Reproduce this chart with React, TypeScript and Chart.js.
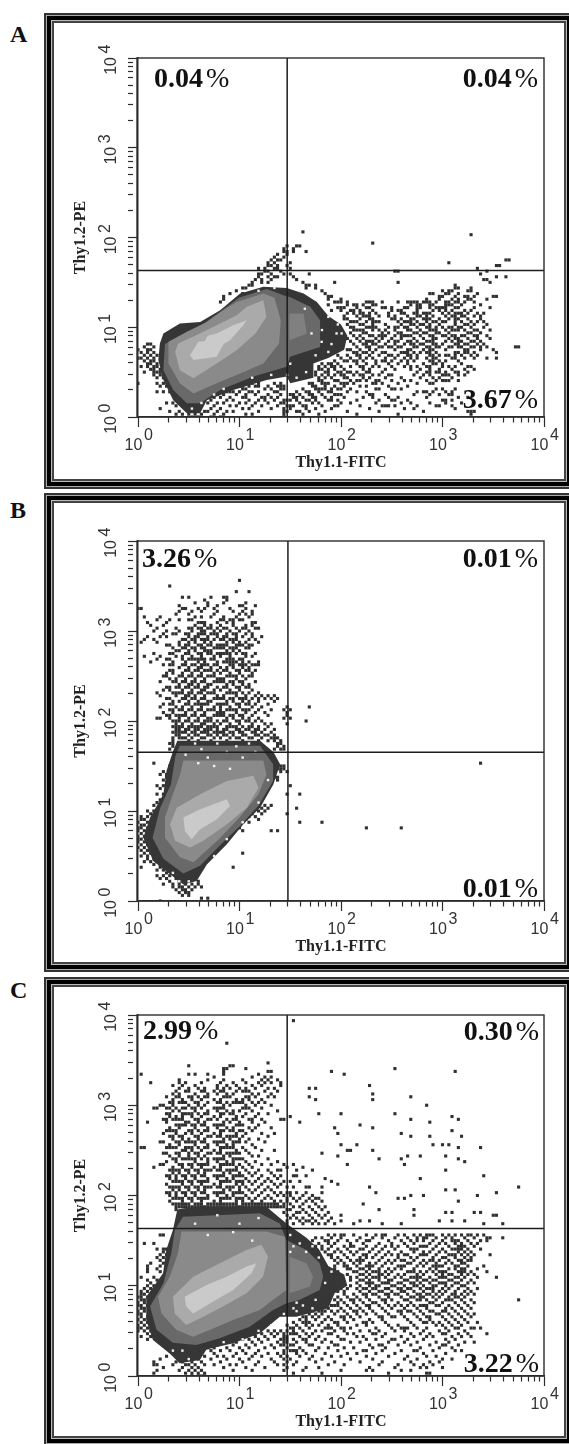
import React, { useEffect, useRef } from "react";
import { Chart, registerables } from "chart.js";
Chart.register(...registerables);

// ---- data: cytometer channels (128 channels across four decades) ----
const channelsPerDecade = 32;
const decadeTicks = [1, 10, 100, 1000, 10000];
const minorMultipliers = [2, 3, 4, 5, 6, 7, 8, 9];
const xTitle = "Thy1.1-FITC";
const yTitle = "Thy1.2-PE";
const panelLetters = ["A", "B", "C"];

const gateX = [29.5, 30, 29.5];
const gateY = [43, 45, 43];

const percentsA = ["0.04", "0.04", "3.67"];
const percentsB = ["3.26", "0.01", "0.01"];
const percentsC = ["2.99", "0.30", "3.22"];

// density contours, as [x channel, y channel]
const aLevel1 = [[16.4,22],[19,26.8],[21,27],[22,29],[24.8,29.8],[27,31],[30,32.7],[34.3,34.5],[33.2,32.7],[29,27.4],[27,26],[24.8,21.5],[17.5,20.3]];
const aLevel2 = [[11.7,23.3],[12.7,26.2],[18.5,29.2],[24.8,32.7],[31.1,36.3],[34.3,39.3],[39.5,41.6],[40.5,35.7],[37,29.8],[31.1,23.8],[24.8,19.1],[17.5,13.8],[13.2,16.7]];
const aLevel3 = [[9.6,26.8],[15.4,30.4],[21.7,33.9],[26.9,38.1],[31.1,41],[39.5,44],[43,42.5],[45,34.5],[44.5,26.2],[39.5,19.1],[32.2,15.5],[24.8,12],[17.5,8.4],[13.2,12],[9.6,19.1]];
const aLobe = [[47.7,36.9],[52.2,36.9],[53.2,29.8],[47.9,27.4]];
const aLevel4 = [[8.5,26],[19.6,32.4],[32,42.6],[40.6,45.6],[46.9,43],[47.9,42.8],[54.3,39.3],[57.4,34.5],[57.4,25],[47.9,21.5],[46.9,17.9],[36.4,14.4],[25.9,9.6],[19.6,4.9],[15.4,4.9],[11.1,9.6],[8,16.7]];
const aLevel5 = [[6.9,26.2],[8,29.8],[13.2,33.3],[19.6,33.9],[25.9,38.1],[32.2,44],[39.5,46.4],[46.9,46],[52.2,44],[56.4,41],[60,36],[64,33],[66,29],[65,24],[60,21],[55.3,19.1],[55.3,14],[48,12],[46.9,14.4],[40.6,13.2],[30,9.6],[21.7,6],[19.6,1.3],[15.4,1.3],[11.1,6],[8,13.2],[6.4,20.3]];

const bLevel1 = [[14.3,29.7],[19.6,32.6],[28,36.2],[29,33.8],[24.8,29],[19.6,25.5],[16.9,22],[14.8,24.9]];
const bLevel2 = [[12.2,33.2],[19.6,38],[28,42.7],[36.4,44.5],[38,40.3],[34.3,33.2],[28,27.3],[20.6,21.4],[16.4,19],[11.7,21.4],[10.1,27.3]];
const bLevel3 = [[14.3,50],[39.5,50],[40.5,45],[38,38],[32,29.7],[25.5,22],[17.5,13.8],[13.2,15.6],[8.5,22.5],[8.5,29.7],[11,38],[13.3,45]];
const bLobe: number[][] = [];
const bLevel4 = [[13.2,55.2],[38.5,55.2],[42.6,48.6],[42.6,42.7],[38,34],[32,26.5],[26.5,20.5],[19.6,12.5],[14.3,9.8],[8,15],[4.6,22.5],[7,33.2],[10.4,41.5],[11.8,51.6]];
const bLevel5 = [[12.4,57],[38.5,57],[42.7,53],[44.8,48.6],[42.7,41.5],[38.5,33.2],[33.2,27.3],[28,20.2],[21.7,13],[18.5,7.1],[14.3,5.9],[10.1,9.5],[4.8,14.2],[1.7,22.5],[3.8,29.7],[8,38],[9,46.3],[11.1,53.4]];

const cLevel1 = [[14.7,28.1],[21.6,32.3],[27.9,35.2],[34.2,38.8],[37.3,40],[35.8,36.4],[30,30.5],[23.7,26.4],[17.4,22.2],[15.2,24.6]];
const cLevel2 = [[11,28.1],[17.4,35.2],[25.8,40],[34.2,44.7],[38.9,46.5],[41,42.3],[39.4,35.2],[34.2,29.3],[26.8,24.6],[19.5,20.4],[15.2,18.1],[11.6,22.2]];
const cLevel3 = [[13.7,51.2],[40.5,51.2],[46.3,49.4],[46.8,30.5],[42.6,27],[38.4,23.4],[30,19.9],[22.6,16.3],[17.4,13.9],[12.1,16.3],[7.4,22.2],[6.3,28.1],[10,35.2],[12.6,43.5]];
const cLobe = [[47.8,42.3],[53.1,40],[55.2,35.2],[54.2,31.7],[47.8,29.3]];
const cLevel4 = [[14.2,56.5],[38.4,57.7],[44.7,54.1],[46.8,48.2],[53.1,44.7],[57.3,40],[58.4,35.2],[57.3,30.5],[51,27],[46.8,25.8],[42.6,23.4],[35.2,17.5],[25.7,13.4],[18.4,11],[11,11.8],[5.8,16.5],[3.8,24.6],[8,32.9],[10.5,43.5],[11.6,51.8]];
const cLevel5 = [[12.4,59],[17.4,60],[40.5,60],[46.8,54.1],[53.1,49],[57,45],[60,39],[65,36],[66,32],[62,29.3],[60,24],[49.9,21],[44.7,21],[38.4,15.1],[30,11.6],[21.6,9.4],[19.5,5.7],[13.1,4.5],[10,8],[4.7,12.8],[2.6,19.9],[2.6,28.1],[7.9,36.4],[8.9,44.7],[11,51.8]];

// light holes inside the dark mass, as [x channel, y channel]
const aHoles = [[52.6,38.6],[54.7,29.8],[57.9,26.8],[60,23.2],[60,35.7],[62.6,29.8],[64.2,29.8],[63,33],[61,26],[47,15],[50,14],[53,16],[36,14],[42,15],[27,10],[24,8],[58,31],[48,19],[56,22],[20,5],[17,3],[51,45],[43,46],[38,45]];
const bHoles = [[20,54],[25,56],[31,55],[35,56],[18,56],[15,52],[22,51],[28,53],[33,51],[37,53],[24,48],[29,47],[19,49],[41,43],[38,35],[33,28],[28,22],[24,16],[16,7],[11,10],[13,7]];
const cHoles = [[48,50],[51,47],[49,24],[52,25],[56,27],[59,33],[61,37],[50,26],[55,46],[48,44],[49,46],[53,44],[57,42],[46,22],[50,23],[55,24],[42,18],[38,16],[33,13],[27,12],[16,6],[14,9],[11,9],[18,54],[25,57],[32,54],[38,56],[22,50],[36,48],[30,51]];

// isolated and sparse events: each row is [y channel, x channels...]
const aCells = [
[66,52],[65,105],[62,74],[61,47,50,51],[60,46,49],[59,46,47,49,53],[58,44,47],[57,43,46],[56,42,44,45,116,117],[55,41,43,48,98],[54,41,42,44,47,113,114],[53,38,40,43,44,48,107],[52,40,41,45,81,82,110],[51,38,39,42,46,48,54,108],[50,38,41,43,44,49,113,116],[49,37,39,42,50,109,110],[48,36,39,41,52,62,82,111],[47,35,36,53,54,56,100],[46,33,34,53,56,100,101,105],[45,31,58,96,98,99,104,105],[44,29,33,59,92,93,97,98,101,107],[43,27,60,61,95,96,100,103,104,106,112,113],[42,27,60,64,91,95,99,101,104,105,110],
[41,26,62,63,64,72,73,77,85,86,87,90,91,92,94,97,100,101,103],[40,60,66,68,69,71,74,75,86,88,89,92,93,97,98,99,102,108],[39,63,64,69,72,77,78,84,85,89,92,94,95,96,100,101,106,111],[38,61,64,67,68,70,74,80,82,83,88,93,95,97,99,103,105],[37,66,68,70,73,75,83,84,87,90,91,92,98,100,101,102,104,107],[36,65,69,71,72,76,79,85,88,89,93,97,99,102,103,106],[35,65,66,70,73,74,80,81,83,86,87,90,91,92,95,98,100,101,104,108],[34,67,68,69,72,75,76,82,84,85,88,93,94,96,97,102,105,107],[33,66,70,71,74,78,83,86,87,89,90,92,95,100,103,104,106,110],[32,67,68,72,73,75,79,81,82,84,88,91,94,96,98,101,102,105,109],[31,68,69,70,74,76,78,85,86,89,92,93,97,99,100,103,106,107,111],[30,67,71,72,77,79,82,83,87,88,90,91,94,95,98,104,105,108],[29,68,70,73,74,76,78,81,84,85,86,89,92,96,97,99,102,103,106,110],[28,66,69,71,75,77,80,83,87,90,93,94,98,100,101,104,107,111],[27,67,70,72,73,76,79,81,82,85,88,91,92,97,99,102,105,106,108],[26,3,4,68,71,74,75,78,84,86,89,90,93,96,100,103,104,107,109],[25,2,5,69,72,76,77,79,82,83,87,88,91,94,95,98,101,102,105,106,110,119,120],[24,0,3,4,66,67,70,73,75,81,85,86,90,92,93,97,103,104,108,112],[23,1,3,5,68,71,72,74,77,83,84,87,89,91,94,100,101,104,106,113],[22,2,4,6,63,66,69,73,76,79,82,85,88,92,95,97,98,102,105,107],[21,0,1,3,5,64,67,70,72,74,78,81,84,86,88,91,93,94,99,100,103,106,110,113],[20,2,4,5,62,65,66,68,71,75,77,80,83,87,92,95,97,101],[19,3,4,6,58,60,61,63,69,72,75,79,82,85,90,93,94,96,102],[18,1,3,5,6,57,59,61,64,67,70,74,76,84,88,91,96,98,100,104,105],[17,4,5,7,57,58,60,62,65,71,73,78,81,86,89,92,95,99,103,106],[16,2,5,6,7,56,59,63,66,67,69,72,77,88,91,94,95,97,100,104],[15,5,7,8,56,58,60,62,64,68,70,74,76,79,87,90,92,96,98,101,103],[14,6,8,57,59,61,65,66,71,73,78,83,89,93,95,99],[13,57,62,63,67,69,72,75,80,84,86,91,94,96,98,101],
[12,0,6,8,25,28,31,33,36,38,43,45,54,55,58,60,64,66,68,74,77,82,88,92],[11,7,9,22,27,29,32,35,37,41,44,46,55,59,62,65,70,72,79,85],[10,20,24,26,33,34,40,42,45,46,52,56,58,61,63,67,75,76,80,83,94,96,100],[9,6,8,10,21,23,28,30,32,35,38,43,44,50,53,57,60,66,69,72,88,90,93,97,99],[8,18,22,25,27,31,34,37,41,45,48,51,54,58,62,64,73,78,87,92,95,98],[7,20,24,26,29,33,39,42,44,49,52,55,59,61,65,71,74,79,82,91,101,104],[6,17,21,23,28,30,35,38,40,43,46,47,50,53,56,60,63,69,76,80,85,96,99],[5,9,11,19,22,25,27,32,34,37,41,45,46,51,55,57,64,67,75,83,86,92,97,102],[4,12,14,18,20,24,29,31,36,39,44,47,49,52,58,62,70,77,79,81,88,94,99],[3,7,15,17,23,26,33,35,42,46,48,53,56,61,73,84,87,100],[2,10,13,21,22,25,28,30,38,46,47,50,51,54,59,66,76,90,104,105,106],[1,12,14,16,18,20,24,27,34,36,46,52,57,69,82,105],[0,17,19,23,26,46]
];

const bCells = [
[114,32],[112,10],[110,31,35],[108,14,16,23,27,28],[107,21,28],[106,18,22,27,34],[105,13,22,25,32,33,37],[104,0,1,14,15,19,21,24,29,34],[103,13,17,20,25,30,33,36],[102,12,16,24,32,34,36],[101,2,7,18,20,23,27,31,35],[100,6,10,13,16,26,29,32,33],[99,3,9,19,20,21,25,28,30,36,37],[98,4,8,18,21,23,26,30,34,36],[97,6,12,16,19,22,23,25,27,31,33,37,38],[96,5,9,13,17,20,21,24,26,29,32,35],[95,8,11,15,19,21,23,24,28,30,34,36],[94,3,7,9,16,18,19,22,25,27,28,31,33,36,39],[93,2,5,14,17,20,21,24,26,29,30,35,37],[92,1,6,13,16,18,21,23,28,30,32,34,38],[91,9,15,16,19,22,25,26,27,31,33,35,36],[90,11,14,17,18,20,24,26,29,30,34,35],[89,12,13,16,18,21,22,23,28,30,32],[88,5,10,15,19,22,25,26,27,28,31,33,37],[87,2,7,12,14,17,20,24,26,29,34,36],[86,6,9,16,18,19,20,23,28,30,32],[85,4,11,15,19,21,25,27,28,29,30,31,33,35,38],[84,8,10,14,17,20,22,24,29,32,34,36,37,38],[83,13,16,19,20,23,26,28,30,33,35],[82,10,15,18,21,22,25,27,31,32,34,37],[81,9,11,14,17,20,24,26,29,32,36],[80,8,13,16,19,22,23,28,30,33,35,36],[79,10,12,15,18,21,25,26,27,31,34],[78,7,11,14,17,20,24,26,29,30,32,37],[77,13,16,17,19,22,23,28,30,33,35],[76,9,12,15,18,21,25,27,31,34,35],[75,8,10,14,17,20,21,24,26,29,32,36],[74,6,11,13,16,19,22,23,28,30,33,35,38],[73,7,12,15,16,18,21,25,27,31,34,37,39,41,43],[72,9,14,17,20,24,26,29,32,33,36,38,40,42,44],[71,11,13,16,19,22,23,28,30,33,35,38,43],[70,8,10,15,18,19,21,25,27,31,34,37,41],[69,7,12,14,17,20,24,26,29,32,36,39,47,54],[68,10,13,16,19,22,23,28,30,31,33,35,38,42,46,48],[67,8,11,15,18,21,25,26,27,31,34,37,40,47],[66,9,12,14,17,20,24,26,29,32,36,41,47],[65,6,7,10,13,16,19,22,23,28,30,33,35,38,46,48],[64,11,15,18,21,25,27,31,34,37,39,53],[63,12,14,17,20,21,24,26,29,32,36,40,42,47],[62,11,13,16,19,22,23,28,30,33,35,38,41],[61,12,15,18,21,25,27,31,34,37,40,43],[60,11,14,17,20,24,26,29,32,36,39,42],
[59,12,13,16,18,19,22,23,25,27,28,30,33,34,37,38,40,41,43],[58,11,13,14,15,17,20,21,24,26,29,31,32,35,36,39,42,43,44],[57,11,16,19,23,28,33,38,41,43,45],[56,10,11,44,45],[55,11,44,46],[54,10,43,45,46],
[49,5,108],[48,10,11,45,46],[47,44,45,46],[46,8,10,43,45,47],[45,7,9],[44,9,43,44],[43,8,10,44],[42,9],[41,6,8,48],[40,7,9],[38,6,8,51,47],[37,9],[36,7],[35,6,8],[34,5,40,42],[33,39,41,50],[32,3,5,38,40],[31,4,6,36,39,47],[30,1,3,35,37],[29,1,2,34,38],[28,0,3,33,35,51,58],[27,1,2],[26,0,1,3,30,32,72,83],[25,0,2,29,33,42,44],[24,1,3,28],[23,0,2],[22,0,1],[21,0,2],[20,1,3],[19,0,2,4],[18,1,3],[17,2,4,33],[16,1,3,5],[15,3,5],[14,2,4,6],[13,5,7],[12,1,7,30],[11,6,8],[10,9,11],[9,6,8,10,12],[8,7,9,12,14],[7,10,13,16,19],[6,8,11,13,15,17,19],[5,11,13,14,16,18,20],[4,12,14,15,17],[3,13,15,16],[2,14,16],[1,20,22],[0,7]
];

const cCells = [
[126,49],[118,28],[111,41],[110,16,29,30],[109,27,28,34,81],[108,27,41,42,61,100],[107,1,16,18,22,27,38,65],[106,24,36,40,42],[105,13,22,27,33,39,41,44],[104,4,13,15,20,26,30,34,38,40,42,45],[103,11,14,18,25,28,31,36,39,45,73],[102,13,16,19,21,25,27,29,32,34,37,41,43,54,56],[101,12,15,20,24,26,31,33,35,40,44],[100,11,13,18,22,25,28,30,36,38,42,74],[99,9,12,16,19,21,27,29,34,37,41,43,54,86],[98,11,14,17,20,24,26,31,33,35,39,56,74],[97,10,13,15,18,22,25,28,30,32,36,38,40],[96,7,8,11,16,19,21,27,29,34,37,42,91],[95,5,6,9,12,14,17,20,24,26,33,35,39],[94,11,13,18,22,25,28,30,32,36,44],[93,9,15,16,19,21,27,29,34,38,41,57,64,81],[92,10,12,14,17,20,24,26,31,33,37,48,99],[91,8,11,13,18,22,25,28,30,35,39,45,46,86,101],[90,3,9,15,16,19,21,27,29,32,36,40,51,92],[89,12,14,17,20,24,26,31,33,38,70],[88,10,13,18,22,25,28,30,35,37,42,62,74],[87,9,11,16,19,21,27,29,32,36,99],[86,8,12,15,17,20,24,26,31,34,39,43,63,83],[85,10,13,18,22,25,28,30,33,41,86,92,102],[84,11,14,16,19,21,27,29,32,35,38],[83,7,8,12,15,17,20,24,26,31,34,40],[82,10,13,18,22,25,28,30,36,64,69,93,96,98],[81,1,2,9,11,16,19,21,27,29,33,37,101,108],[80,14,15,17,20,24,26,31,34,39,43,66,67,74],[79,8,12,18,22,25,28,30,32,35,58],[78,10,13,16,19,21,27,29,36,38,63,85,89,97],[77,11,14,15,17,20,24,26,31,33,41,76,83,101],[76,9,12,18,22,25,28,30,34,37,44,103],[75,7,13,16,19,21,27,29,32,35,39,42,46,49,66,84],[74,5,11,14,17,20,24,26,31,33,36,47,52],[73,10,12,15,18,22,25,28,30,34,38,41,44,45,50,55,97],[72,11,13,16,19,21,27,29,32,35,37,42],[71,9,14,17,20,24,26,31,33,36,39,43,45,49,50,53,109],[70,10,12,15,18,22,25,28,30,34,38,41,44,59,89],[69,11,13,16,19,21,27,29,32,35,37,40,42,46,48,51,61],[68,9,14,17,20,24,26,31,33,36,39,43,45,63],[67,10,12,15,18,22,25,28,30,34,38,41,44,47,49,53,54,58,73,120],[66,11,13,16,19,21,27,29,32,35,37,40,42,97,100],[65,9,14,17,20,24,26,31,33,36,39,43,45,47,48,50,53,58,75,113],[64,10,12,15,18,22,25,28,30,34,38,41,44,46,48,52,55,86,90,107],[63,11,13,16,19,21,27,29,32,35,37,40,42,47,49,51,54,56,57,82,84],[62,10,14,17,20,24,26,31,33,36,39,43,45,47,50,53,55,58,101],
[61,11,13,15,18,22,25,28,30,34,37,41,44,46,48,52,56,71],[60,12,16,19,23,26,29,32,35,38,42,45,46,49,51,54,57,59],[59,12,47,48,52,55,58,76,87],[58,46,50,51,53,56,60,97,99,106,108],[57,47,49,54,57,59,64,87,112,113],[56,48,50,52,55,58,61],[55,47,51,53,54,56,60,64,70,73,95,99,103],[54,47,49,52,55,57,59,62,68,77,83,109,115],
[50,7,8,60,62,65,68,72,75,78,82,84,87,89,92,93,96,98,100,102,105,107,109],[49,56,58,61,64,70,74,77,81,85,88,90,91,94,97,99,103,106,110,111,115],[48,55,59,63,66,69,73,79,83,86,90,93,96,99,101,104,108,110],[47,2,5,54,57,60,62,67,71,76,80,84,87,92,95,97,100,102,105,107],[46,56,58,61,65,68,72,75,78,82,85,89,91,94,98,101,103,106],[45,6,8,9,58,60,63,66,70,74,77,81,86,88,93,96,99,100,102,104,108],[44,8,59,62,64,67,69,73,76,79,83,87,90,92,95,97,101,103,105],[43,7,9,60,61,65,68,71,75,78,80,84,85,89,91,94,98,99,102,104,106,111],[42,6,8,10,61,63,66,70,72,74,77,82,86,88,93,96,97,100,103,105],[41,7,9,62,64,67,69,71,76,79,81,83,87,90,92,95,98,101,102,104],[40,4,8,63,65,68,70,73,75,78,80,85,86,89,91,94,97,99,102,103],[39,3,7,62,65,66,69,72,74,77,82,84,88,90,93,95,96,100,101,104,109],[38,3,6,62,66,67,70,71,73,76,79,81,83,87,92,94,98,100,102,103,107],[37,3,7,63,68,69,72,74,75,78,80,85,86,89,91,93,95,97,101,103,105,110],[36,66,70,71,73,76,77,79,82,84,88,90,94,96,98,99,102,104,106],[35,1,5,67,69,72,74,75,78,81,83,86,87,89,92,95,97,100,101,103,107,113],[34,3,6,67,70,71,73,76,79,80,84,85,88,90,91,93,94,98,99,102,105],[33,4,69,72,74,77,78,82,83,86,89,92,95,96,100,101,104,106],[32,3,5,67,70,73,75,76,80,81,84,87,88,90,93,94,97,99,102,103],[31,2,4,64,66,69,71,72,74,78,79,82,85,86,89,91,92,96,98,101,104,107],[30,1,3,63,65,70,73,76,77,80,83,84,87,90,93,95,97,100,103,105],[29,1,2,65,68,71,74,75,78,81,82,85,88,91,92,94,96,99,102,104,106],[28,0,1,3,63,66,69,72,76,79,83,86,87,89,90,93,95,98,100,101,103],[27,1,2,62,64,67,70,73,77,80,84,85,88,91,94,97,99,102,105,120],[26,0,2,60,63,65,68,71,74,75,78,82,86,92,93,96,100,103,106],[25,0,1,3,61,62,66,69,72,76,79,81,83,87,89,90,94,95,98,101,104],[24,1,2,58,60,64,67,70,73,77,80,84,88,91,97,99,102,105],[23,0,2,55,57,59,61,63,65,68,71,74,78,82,85,86,89,92,93,96,100,103],[22,0,1,54,56,58,62,66,69,72,75,79,83,87,90,94,95,98,101,104,106],[21,1,3,52,55,57,60,64,67,70,76,80,81,84,88,91,96,99,102,105],[20,0,2,51,53,56,59,61,65,68,73,77,85,89,92,97,100,103],[19,1,3,49,52,54,58,62,66,71,74,78,86,90,93,95,98,101,104,107],[18,0,2,47,50,53,55,57,60,63,69,72,79,82,87,94,96,99,102],[17,0,1,3,48,51,54,59,61,64,67,75,80,83,85,88,91,97,100,105,106,108],[16,0,2,4,33,38,41,43,45,47,49,52,56,58,62,65,70,73,76,81,84,90,95,98,103],[15,3,5,30,36,39,42,44,46,48,50,53,55,60,66,68,74,78,86,89,92,96,101,104,110],[14,1,4,28,31,34,37,40,43,46,47,51,54,57,63,69,71,77,83,87,91,93,99,102,105],[13,3,26,29,33,35,38,41,45,46,49,52,56,59,64,72,75,80,85,90,97,100],[12,23,27,31,36,39,44,46,47,50,53,58,61,67,70,79,84,88,94,98,103,106],[11,25,30,34,37,42,45,46,48,54,55,62,73,76,82,86,92,96,101],[10,9,11,22,24,28,32,35,40,43,47,51,57,60,65,68,74,78,89,95,99],[9,10,12,23,26,29,33,38,46,48,49,52,56,63,71,77,83,87,93,100,102],[8,11,20,24,31,34,37,41,44,46,50,53,59,66,69,75,81,90,97],[7,9,12,21,25,27,30,36,39,45,47,51,55,61,64,72,79,85,91,94],[6,7,13,15,19,23,28,32,35,42,46,48,54,58,67,74,84,88,96,99],[5,5,12,14,17,20,26,33,38,43,47,50,56,62,70,77,86,92,95],[4,5,6,11,15,16,18,21,24,29,31,37,44,46,49,60,65,76,82,87,90,93],[3,8,14,17,19,27,34,40,47,53,57,73,81,89,91,96],[2,6,13,16,18,20,30,36,46,52,64,72,74,83,86],[1,5,15,17,19,21,49,58,79,91,92],[0,17,19,20,21]
];

// horizontal-neighbour partners seen beside many events (runs of two cells), same row format
const aRuns = [
[41,66,74,82,88,98,106],[39,65,73,80,88,97],[37,71,79,88,96,109],[36,73,81,91,100,108],[34,74,86,91,100,109],[32,74,85,92,99],[31,71,81,94,101],[29,77,83,93,100,107],[27,74,86,93,101],[26,72,81,87,94,101],[25,73,80,92,99,108],[23,69,78,85,92,103],[22,70,80,86,93,100],[20,69,78,85,93],[18,62,71,80,86,92],[16,60,64,73,92,101],[15,65,71,80,97],[13,58,63,70,76,97],[12,59,65,75,93],[10,57,59,64,81],[8,49,55,63,74,99],[6,48,54,61,81,97],[4,48,53,63,78,95],[9,29,36,54,61,91],[7,34,40,50,56],[11,28,33,38,45,56]
];
const bRuns = [
[100,17,27,30],[97,17,20,28,34],[95,12,16,20,25,31],[93,15,18,22,27,31],[91,10,13,20,23,28,32],[90,15,21,25,27,31],[88,11,16,20,23,29,34],[86,10,14,17,21,24,29,33],[84,11,15,18,21,25,30,33],[82,11,16,19,23,28,35],[80,9,14,17,20,24,29,31],[78,12,15,18,21,25,27,33],[76,10,13,16,19,22,28,32],[74,12,14,17,20,24,29,31],[72,10,15,18,21,25,27,30,34],[70,11,16,20,22,26,28,32,35],[68,11,14,17,20,24,26,29,34],[66,10,13,15,18,21,25,27,30,33],[64,12,13,16,19,22,23,28,32,35],[62,12,14,17,18,20,24,25,29,31,36],[60,12,13,15,18,21,22,25,27,30,33,37],[61,13,16,19,22,23,28,32,35,38]
];
const cRuns = [
[101,16,21,27,34],[99,13,17,22,28,35],[97,11,14,19,26,31,33],[95,10,15,18,25,27,34],[93,10,14,17,22,26,30],[91,9,12,14,19,23,31,36],[89,13,15,18,21,25,27,32],[87,10,12,17,22,26,30,33],[85,11,14,19,23,26,29,31],[83,13,16,18,21,25,27,30,32],[81,10,12,15,17,22,26,28,30],[79,9,13,16,19,23,26,29,31],[77,12,16,18,22,25,27,30,32],[75,8,14,17,20,22,26,28,30],[73,11,13,16,19,21,23,26,29,31],[71,10,12,15,18,21,25,27,30,32],[69,12,14,17,20,22,26,28,31,33],[67,11,13,16,19,21,23,26,29,32],[65,10,12,15,18,21,25,27,30,32],[63,12,14,17,20,22,26,28,31,33],[61,12,14,16,19,20,23,24,26,27,29,31,33,35,36,38,39,40,42,43],[60,13,14,15,17,18,20,21,22,24,25,27,28,30,31,33,34,36,37,39,40,41,43,44],
[50,64,77,91,104],[48,60,72,88,100],[46,67,80,90,102],[45,71,87,101],[43,72,82,90,100],[41,70,84,93,105],[39,73,83,94],[37,76,87,96,102],[35,76,88,96],[33,73,79,87,97],[31,75,83,93],[29,72,79,89,100],[27,68,78,89,98],[25,63,73,85,91],[23,58,69,83,97],[21,53,65,77,92],[19,53,63,72,91],[17,49,60,65,84,101],[15,49,61,75,97],[13,47,53,65,81],[11,49,63,77,97],[9,50,72,88]
];

// ---- layout (kept apart from the data) ----
const plotLeft = 138, plotRight = 544, canvasW = 569;
const panelBoxes = [
  { top: 0, h: 489, plotTop: 58, plotBottom: 417 },
  { top: 489, h: 476, plotTop: 541, plotBottom: 901 },
  { top: 965, h: 479, plotTop: 1015, plotBottom: 1376 },
];
const frames = [
  { top: 13, bottom: 489 },
  { top: 493, bottom: 972 },
  { top: 977, bottom: 1446 },
];
const letterTops = [21, 497, 977];
const pctSpots = [
  [[154, 87], [538, 87], [538, 408]],
  [[142, 567], [538, 567], [538, 897]],
  [[143, 1039], [539, 1040], [539, 1372]],
];
const levelColours = ["#cacaca", "#aaaaaa", "#8a8a8a", "#808080", "#696969", "#363636"];
const INK = "#2c2c2c";
const SERIF = "'Liberation Serif', serif";
const SANS = "'Liberation Sans', sans-serif";

const toValue = (channel: number) => Math.pow(10, channel / channelsPerDecade);
const shape = (pts: number[][]) =>
  pts.length ? [...pts, pts[0]].map(([x, y]) => ({ x: toValue(x), y: toValue(y) })) : [];
const cells = (rows: number[][]) =>
  rows.flatMap(([y, ...xs]) => xs.map((x) => ({ x: toValue(x), y: toValue(y) })));
const pairs = (pts: number[][]) => pts.map(([x, y]) => ({ x: toValue(x), y: toValue(y) }));

const allTicks = decadeTicks.flatMap((d, i) =>
  i === decadeTicks.length - 1 ? [d] : [d, ...minorMultipliers.map((m) => d * m)]
);

const panelData = [
  { levels: [aLevel1, aLevel2, aLevel3, aLobe, aLevel4, aLevel5], holes: aHoles, rows: [...aCells, ...aRuns], pct: percentsA },
  { levels: [bLevel1, bLevel2, bLevel3, bLobe, bLevel4, bLevel5], holes: bHoles, rows: [...bCells, ...bRuns], pct: percentsB },
  { levels: [cLevel1, cLevel2, cLevel3, cLobe, cLevel4, cLevel5], holes: cHoles, rows: [...cCells, ...cRuns], pct: percentsC },
];

function scaleBase(horizontal: boolean, title: string) {
  return {
    type: "logarithmic" as const,
    min: 1,
    max: 10000,
    position: horizontal ? "bottom" : "left",
    title: {
      display: true,
      text: title,
      color: "#222",
      padding: 0,
      font: { family: SERIF, weight: "bold", size: 16 },
    },
    border: { display: true, color: INK, width: 1.5 },
    grid: {
      drawOnChartArea: false,
      drawTicks: true,
      tickLength: 10,
      tickColor: INK,
      tickWidth: 1.2,
      tickBorderDash: (ctx: any) => (ctx.tick && decadeTicks.includes(ctx.tick.value) ? [] : [5, 100]),
    },
    ticks: {
      autoSkip: false,
      color: "#333",
      font: { family: SANS, size: 16 },
      padding: horizontal ? 9 : 16,
      labelOffset: horizontal ? -4.5 : -1,
      maxRotation: horizontal ? 0 : 90,
      minRotation: horizontal ? 0 : 90,
      callback: (v: number) => (decadeTicks.includes(v) ? "10" : ""),
    },
    afterBuildTicks: (s: any) => {
      s.ticks = allTicks.map((value) => ({ value, major: decadeTicks.includes(value) }));
    },
    afterFit: (s: any) => {
      if (horizontal) s.height = 55;
      else s.width = 67;
    },
  };
}

function Panel({ index }: { index: number }) {
  const ref = useRef<HTMLCanvasElement>(null);
  useEffect(() => {
    const box = panelBoxes[index];
    const d = panelData[index];
    const spots = pctSpots[index];
    const overlay = {
      id: "panelText",
      afterDraw(chart: any) {
        const { ctx, chartArea: a, scales } = chart;
        ctx.save();
        ctx.strokeStyle = INK;
        ctx.lineWidth = 1.4;
        ctx.strokeRect(a.left - 1, a.top, a.right - a.left + 1, a.bottom - a.top);
        ctx.fillStyle = "#333";
        ctx.font = `16px ${SANS}`;
        ctx.textBaseline = "middle";
        decadeTicks.forEach((v, i) => {
          const px = scales.x.getPixelForValue(v);
          ctx.textAlign = "left";
          ctx.fillText(String(i), px + 6, a.bottom + 19);
          const py = scales.y.getPixelForValue(v);
          ctx.save();
          ctx.translate(a.left - 32, py - 9);
          ctx.rotate(-Math.PI / 2);
          ctx.textAlign = "center";
          ctx.fillText(String(i), 0, 0);
          ctx.restore();
        });
        d.pct.forEach((txt, i) => {
          const [sx, by] = spots[i];
          const y = by - box.top;
          ctx.textBaseline = "alphabetic";
          ctx.textAlign = "left";
          ctx.fillStyle = "#111";
          ctx.font = `bold 28px ${SERIF}`;
          const w1 = ctx.measureText(txt).width;
          ctx.font = `28px ${SERIF}`;
          const w2 = ctx.measureText("%").width;
          const x0 = i === 0 ? sx : sx - w1 - w2 - 3;
          ctx.font = `bold 28px ${SERIF}`;
          ctx.fillText(txt, x0, y);
          ctx.font = `28px ${SERIF}`;
          ctx.fillText("%", x0 + w1 + 3, y);
        });
        ctx.restore();
      },
    };
    const gate = (data: any[]) => ({
      data,
      showLine: true,
      borderColor: "#1c1c1c",
      borderWidth: 1.5,
      pointRadius: 0,
      fill: false,
    });
    const level = (pts: number[][], i: number) => ({
      data: shape(pts),
      showLine: true,
      borderWidth: 0,
      borderColor: levelColours[i],
      backgroundColor: levelColours[i],
      pointRadius: 0,
      fill: "shape",
      tension: 0,
    });
    const chart = new Chart(ref.current as HTMLCanvasElement, {
      type: "scatter",
      data: {
        datasets: [
          gate([{ x: gateX[index], y: 1 }, { x: gateX[index], y: 10000 }]),
          gate([{ x: 1, y: gateY[index] }, { x: 10000, y: gateY[index] }]),
          {
            data: pairs(d.holes),
            pointStyle: "rect",
            pointRadius: 1.7,
            pointBorderWidth: 0,
            pointBackgroundColor: "#f0f0f0",
          },
          ...d.levels.map(level),
          {
            data: cells(d.rows),
            pointStyle: "rect",
            pointRadius: 2.2,
            pointBorderWidth: 0,
            pointBackgroundColor: "#303030",
          },
        ],
      } as any,
      options: {
        responsive: false,
        animation: false,
        events: [],
        layout: {
          padding: {
            left: plotLeft - 67,
            right: canvasW - plotRight,
            top: box.plotTop - box.top,
            bottom: box.top + box.h - box.plotBottom - 55,
          },
        },
        plugins: { legend: { display: false }, tooltip: { enabled: false }, title: { display: false } },
        scales: { x: scaleBase(true, xTitle), y: scaleBase(false, yTitle) },
      } as any,
      plugins: [overlay],
    });
    return () => chart.destroy();
  }, [index]);
  const box = panelBoxes[index];
  return (
    <canvas
      ref={ref}
      width={canvasW}
      height={box.h}
      style={{ position: "absolute", left: 0, top: box.top, width: canvasW, height: box.h }}
    />
  );
}

const frameShadow = [
  "inset 0 0 0 2px #333",
  "inset 0 0 0 3px #aaa",
  "inset 0 0 0 7px #000",
  "inset 0 0 0 8px #bbb",
  "inset 0 0 0 10px #444",
].join(",");

export default function App() {
  return (
    <div
      style={{
        position: "absolute",
        left: 0,
        top: 0,
        width: 569,
        height: 1444,
        overflow: "hidden",
        background: "#fff",
        filter: "blur(0.45px)",
      }}
    >
      {frames.map((f, i) => (
        <div
          key={i}
          style={{
            position: "absolute",
            left: 44,
            top: f.top,
            width: 530,
            height: f.bottom - f.top,
            boxShadow: frameShadow,
          }}
        />
      ))}
      {panelLetters.map((l, i) => (
        <div
          key={l}
          style={{
            position: "absolute",
            left: 10,
            top: letterTops[i],
            font: `bold 24px ${SERIF}`,
            color: "#111",
          }}
        >
          {l}
        </div>
      ))}
      {panelBoxes.map((_, i) => (
        <Panel key={i} index={i} />
      ))}
    </div>
  );
}
